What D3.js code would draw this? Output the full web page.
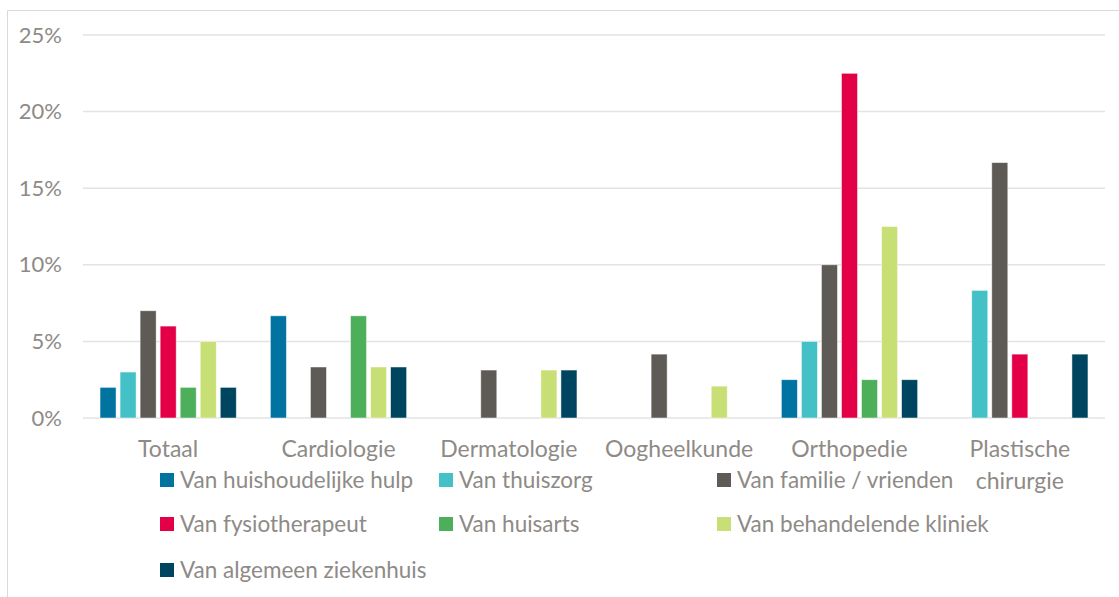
<!DOCTYPE html>
<html>
<head>
<meta charset="utf-8">
<script src="https://cdn.jsdelivr.net/npm/d3@7"></script>
<style>
  body { margin: 0; background: #fff; }
  text { font-family: Lato, "Open Sans", sans-serif; fill: #8e8a86; }
</style>
</head>
<body>
<script>
// categorieen en reeksen
const categories = ["Totaal", "Cardiologie", "Dermatologie", "Oogheelkunde", "Orthopedie", "Plastische chirurgie"];
const seriesNames = ["Van huishoudelijke hulp", "Van thuiszorg", "Van familie / vrienden",
  "Van fysiotherapeut", "Van huisarts", "Van behandelende kliniek", "Van algemeen ziekenhuis"];
const huishoudelijk = [2, 6.67, 0, 0, 2.5, 0];
const thuiszorg = [3, 0, 0, 0, 5, 8.33];
const familie = [7, 3.33, 3.13, 4.17, 10, 16.67];
const fysio = [6, 0, 0, 0, 22.5, 4.17];
const huisarts = [2, 6.67, 0, 0, 2.5, 0];
const kliniek = [5, 3.33, 3.13, 2.08, 12.5, 0];
const ziekenhuis = [2, 3.33, 3.13, 0, 2.5, 4.17];
const yTicks = [0, 5, 10, 15, 20, 25];
const colors = ["#0073a0", "#43c1c6", "#5e5a56", "#e40046", "#4eaf5b", "#c8df75", "#004560"];

const allSeries = [huishoudelijk, thuiszorg, familie, fysio, huisarts, kliniek, ziekenhuis];

const W = 1119, H = 597;
const plotLeft = 83, plotRight = 1105, plotTop = 35, plotBottom = 418;

const svg = d3.select("body").append("svg")
    .attr("width", W)
    .attr("height", H);

// rand van het kader
svg.append("path")
    .attr("d", `M7.5,${H} V10.5 H${W}`)
    .attr("fill", "none")
    .attr("stroke", "#d9d9d9")
    .attr("stroke-width", 1);

const x0 = d3.scaleBand().domain(categories).range([plotLeft, plotRight]).paddingInner(0.2).paddingOuter(0.1);
const x1 = d3.scaleBand().domain(seriesNames).range([0, x0.bandwidth()]).paddingInner(0.2);
const y = d3.scaleLinear().domain([0, 25]).range([plotBottom, plotTop]);

// rasterlijnen
svg.append("g").selectAll("line")
    .data(yTicks)
    .enter()
    .append("line")
    .attr("x1", plotLeft)
    .attr("x2", plotRight)
    .attr("y1", d => y(d))
    .attr("y2", d => y(d))
    .attr("stroke", "#e3e3e3")
    .attr("stroke-width", 1.5);

const yAxis = svg.append("g")
    .attr("transform", `translate(${plotLeft - 21},0)`)
    .call(d3.axisLeft(y).tickValues(yTicks).tickFormat(d => d + "%").tickSize(0).tickPadding(0));
yAxis.select(".domain").remove();
yAxis.attr("font-family", null).attr("font-size", null);
yAxis.selectAll("text").style("font-size", "22px").attr("fill", null);

// staven
const groups = svg.append("g").selectAll("g")
    .data(categories)
    .enter()
    .append("g")
    .attr("transform", d => `translate(${x0(d)},0)`);

groups.selectAll("rect")
    .data((c, ci) => seriesNames.map((s, si) => ({ s, v: allSeries[si][ci], si })).filter(d => d.v > 0))
    .enter()
    .append("rect")
    .attr("x", d => x1(d.s))
    .attr("width", x1.bandwidth())
    .attr("y", d => y(d.v))
    .attr("height", d => y(0) - y(d.v))
    .attr("fill", d => colors[d.si])
    .attr("stroke", "#fff")
    .attr("stroke-opacity", 0.6)
    .attr("stroke-width", 0.8);

// categorie labels
const xAxis = svg.append("g").attr("transform", `translate(0,${plotBottom})`);
categories.forEach(c => {
  const words = c === "Plastische chirurgie" ? ["Plastische", "chirurgie"] : [c];
  const cx = x0(c) + x0.bandwidth() / 2;
  const t = xAxis.append("text")
      .attr("x", cx)
      .attr("y", 39)
      .attr("text-anchor", "middle")
      .style("font-size", "23px");
  words.forEach((w, i) => {
    t.append("tspan").attr("x", cx).attr("dy", i === 0 ? 0 : 32).text(w);
  });
});

// legenda
const legendX = [160, 439, 717];
const legendY = [480, 524, 570];
const legend = svg.append("g").selectAll("g")
    .data(seriesNames)
    .enter()
    .append("g")
    .attr("transform", (d, i) => `translate(${legendX[i % 3]},${legendY[Math.floor(i / 3)]})`);

legend.append("rect")
    .attr("x", 0)
    .attr("y", -7)
    .attr("width", 14)
    .attr("height", 14)
    .attr("fill", (d, i) => colors[i]);

legend.append("text")
    .attr("x", 20)
    .attr("y", 0)
    .attr("dy", "0.35em")
    .style("font-size", "22.5px")
    .text(d => d);
</script>
</body>
</html>
